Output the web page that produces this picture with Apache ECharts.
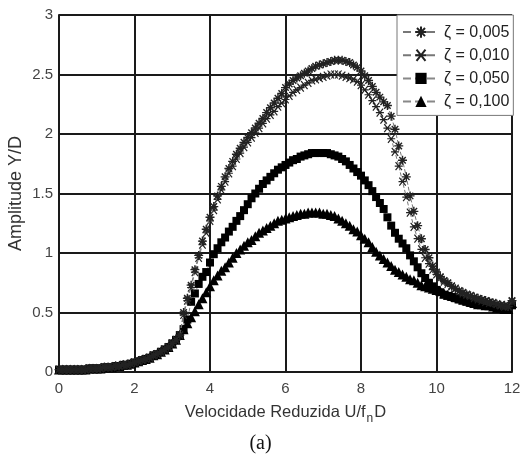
<!DOCTYPE html>
<html>
<head>
<meta charset="utf-8">
<script src="https://cdn.jsdelivr.net/npm/echarts@6/dist/echarts.min.js"></script>
<style>
html,body{margin:0;padding:0;background:#fff;}
#main{width:521px;height:463px;}
</style>
</head>
<body>
<div id="main"></div>
<script>
// velocidade reduzida U/fnD, passo 0.1
var U = [0,0.1,0.2,0.3,0.4,0.5,0.6,0.7,0.8,0.9,1,1.1,1.2,1.3,1.4,1.5,1.6,1.7,1.8,1.9,
  2,2.1,2.2,2.3,2.4,2.5,2.6,2.7,2.8,2.9,3,3.1,3.2,3.3,3.4,3.5,3.6,3.7,3.8,3.9,
  4,4.1,4.2,4.3,4.4,4.5,4.6,4.7,4.8,4.9,5,5.1,5.2,5.3,5.4,5.5,5.6,5.7,5.8,5.9,
  6,6.1,6.2,6.3,6.4,6.5,6.6,6.7,6.8,6.9,7,7.1,7.2,7.3,7.4,7.5,7.6,7.7,7.8,7.9,
  8,8.1,8.2,8.3,8.4,8.5,8.6,8.7,8.8,8.9,9,9.1,9.2,9.3,9.4,9.5,9.6,9.7,9.8,9.9,
  10,10.1,10.2,10.3,10.4,10.5,10.6,10.7,10.8,10.9,11,11.1,11.2,11.3,11.4,11.5,11.6,11.7,11.8,11.9,12];

// trecho comum (0 .. 3.2)
var base = [0.02,0.02,0.02,0.02,0.02,0.02,0.02,0.02,0.03,0.03,0.03,0.03,0.04,0.04,0.04,0.05,0.05,0.06,0.06,0.07,
  0.08,0.09,0.10,0.11,0.12,0.14,0.15,0.17,0.19,0.21,0.24,0.27,0.31];

var z005 = base.concat([0.50,0.62,0.73,0.86,0.98,1.10,1.20,
  1.30,1.39,1.48,1.56,1.64,1.71,1.77,1.83,1.88,1.93,1.97,2.01,2.05,2.09,2.13,2.18,2.22,2.26,2.30,2.34,
  2.39,2.42,2.45,2.47,2.49,2.51,2.53,2.55,2.57,2.58,2.59,2.60,2.61,2.62,2.62,2.62,2.61,2.60,2.58,2.56,
  2.53,2.49,2.45,2.40,2.35,2.31,2.27,2.24,2.15,2.04,1.90,1.78,1.64,1.48,1.35,1.23,1.12,1.03,0.96,0.89,
  0.84,0.80,0.77,0.75,0.72,0.70,0.68,0.67,0.65,0.64,0.63,0.62,0.61,0.60,0.59,0.58,0.57,0.56,0.56,0.55,0.60]);

var z010 = base.concat([0.48,0.60,0.71,0.84,0.96,1.07,1.17,
  1.27,1.36,1.45,1.53,1.60,1.67,1.73,1.79,1.84,1.89,1.93,1.97,2.01,2.05,2.09,2.13,2.16,2.19,2.23,2.26,
  2.29,2.32,2.35,2.37,2.39,2.41,2.43,2.45,2.46,2.47,2.48,2.49,2.50,2.50,2.50,2.49,2.48,2.47,2.46,2.44,
  2.41,2.37,2.33,2.28,2.23,2.18,2.12,2.05,1.96,1.85,1.73,1.60,1.47,1.34,1.22,1.12,1.03,0.96,0.91,0.86,
  0.82,0.79,0.76,0.74,0.72,0.70,0.68,0.66,0.65,0.64,0.62,0.61,0.60,0.59,0.58,0.58,0.57,0.56,0.55,0.55,0.59]);

var z050 = base.concat([0.36,0.44,0.59,0.66,0.74,0.80,0.84,
  0.92,0.99,1.04,1.09,1.13,1.18,1.22,1.27,1.31,1.36,1.41,1.46,1.50,1.54,1.58,1.61,1.64,1.67,1.70,1.72,
  1.74,1.76,1.78,1.79,1.81,1.82,1.83,1.84,1.84,1.84,1.84,1.84,1.83,1.82,1.81,1.79,1.77,1.74,1.71,1.68,
  1.65,1.61,1.57,1.52,1.47,1.42,1.37,1.30,1.23,1.17,1.12,1.08,1.04,0.98,0.93,0.88,0.83,0.79,0.75,0.72,
  0.69,0.67,0.65,0.64,0.63,0.62,0.61,0.60,0.59,0.58,0.58,0.57,0.57,0.56,0.56,0.55,0.55,0.54,0.54,0.53,0.56]);

var z100 = base.concat([0.36,0.41,0.46,0.51,0.57,0.62,0.67,
  0.72,0.77,0.81,0.85,0.88,0.92,0.96,1.00,1.03,1.06,1.09,1.11,1.14,1.17,1.19,1.21,1.23,1.25,1.27,1.28,
  1.29,1.30,1.31,1.32,1.33,1.33,1.34,1.34,1.34,1.34,1.33,1.33,1.32,1.31,1.29,1.27,1.25,1.23,1.20,1.18,
  1.15,1.12,1.09,1.05,1.01,0.98,0.95,0.92,0.89,0.86,0.84,0.82,0.80,0.78,0.77,0.75,0.73,0.72,0.71,0.70,
  0.69,0.68,0.66,0.65,0.64,0.63,0.62,0.61,0.60,0.59,0.58,0.57,0.57,0.56,0.56,0.55,0.54,0.54,0.53,0.53,0.58]);

var nomes = ['ζ = 0,005', 'ζ = 0,010', 'ζ = 0,050', 'ζ = 0,100'];

function pares(v) {
  var out = [];
  for (var i = 0; i < U.length; i++) out.push([U[i], v[i]]);
  return out;
}

var asterisco = 'path://M0,-5L0,5M-5,0L5,0M-3.6,-3.6L3.6,3.6M-3.6,3.6L3.6,-3.6';
var xis = 'path://M-4,-4L4,4M-4,4L4,-4M-5,0L5,0';

var myChart = echarts.init(document.getElementById('main'));

var option = {
  backgroundColor: '#fff',
  animation: false,
  grid: { left: 59, right: 9, top: 15, bottom: 91, containLabel: false, outerBoundsMode: 'none' },
  legend: {
    orient: 'vertical',
    left: 397, top: 15,
    backgroundColor: '#fff',
    borderColor: '#777',
    borderWidth: 1,
    borderRadius: 0,
    padding: [9, 4, 6, 5],
    itemGap: 7,
    itemWidth: 36,
    itemHeight: 14,
    textStyle: { fontFamily: 'Liberation Sans', fontSize: 16, color: '#222' },
    data: nomes
  },
  xAxis: {
    type: 'value', min: 0, max: 12, interval: 2,
    name: 'Velocidade Reduzida U/f{n|n}D',
    nameLocation: 'middle', nameGap: 27,
    nameTextStyle: {
      fontFamily: 'Liberation Sans', fontSize: 16.5, color: '#333',
      rich: { n: { fontFamily: 'Liberation Sans', fontSize: 12, color: '#333', padding: [14, 1, 0, 1] } }
    },
    axisLine: { lineStyle: { color: '#1a1a1a', width: 2 } },
    axisTick: { show: false },
    axisLabel: { fontFamily: 'Liberation Sans', fontSize: 15, color: '#444', margin: 9 },
    splitLine: { lineStyle: { color: '#1a1a1a', width: 2 } }
  },
  yAxis: {
    type: 'value', min: 0, max: 3, interval: 0.5,
    name: 'Amplitude Y/D',
    nameLocation: 'middle', nameGap: 34, nameMoveOverlap: false,
    nameTextStyle: { fontFamily: 'Liberation Sans', fontSize: 18, color: '#333' },
    axisLine: { show: true, lineStyle: { color: '#1a1a1a', width: 2 } },
    axisTick: { show: false },
    axisLabel: { fontFamily: 'Liberation Sans', fontSize: 15, color: '#444', margin: 6 },
    splitLine: { lineStyle: { color: '#1a1a1a', width: 2 } }
  },
  graphic: [{
    type: 'text', left: 'center', top: 434,
    style: { text: '(a)', font: '20px "Liberation Serif"', fill: '#111' }
  }],
  series: [
    {
      name: nomes[2], type: 'line', data: pares(z050), z: 3,
      symbol: 'rect', symbolSize: 8,
      itemStyle: { color: '#000' },
      lineStyle: { color: '#888', width: 1, type: 'dashed' }
    },
    {
      name: nomes[3], type: 'line', data: pares(z100), z: 3,
      symbol: 'triangle', symbolSize: 10,
      itemStyle: { color: '#000' },
      lineStyle: { color: '#888', width: 1, type: 'dashed' }
    },
    {
      name: nomes[1], type: 'line', data: pares(z010), z: 4,
      symbol: xis, symbolSize: 8,
      itemStyle: { color: 'none', borderColor: '#222', borderWidth: 1.2 },
      lineStyle: { color: '#777', width: 1, type: 'dashed' }
    },
    {
      name: nomes[0], type: 'line', data: pares(z005), z: 5,
      symbol: asterisco, symbolSize: 9,
      itemStyle: { color: 'none', borderColor: '#222', borderWidth: 1.4 },
      lineStyle: { color: '#777', width: 1, type: 'dashed' }
    }
  ]
};

myChart.setOption(option);
</script>
</body>
</html>
